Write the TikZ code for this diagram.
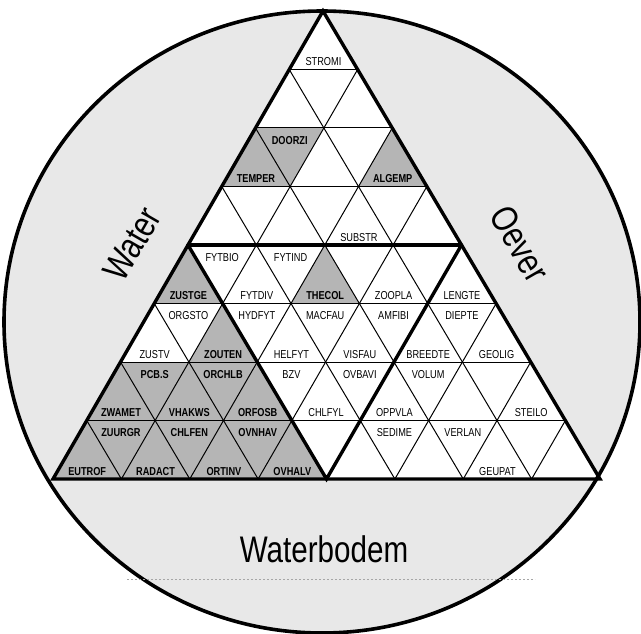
\documentclass[tikz,border=0pt]{standalone}
\usepackage{fontspec}
\setmainfont{Liberation Sans}
\newfontfamily\cf[FakeStretch=0.8]{Liberation Sans}
\usetikzlibrary{calc}
\newcommand\UpLab[5][lab]{\node[#1] (#4) at ({323-33.75*(#2+1)+68.375*(#3+0.5)},{11+58.5*(#2+1)-7.5}) {#5};}
\newcommand\DnLab[5][lab]{\node[#1] (#4) at ({323-33.75*(#2)+68.375*(#3+0.5)},{11+58.5*(#2)+12.5}) {#5};}
\newcommand\UpCell[2]{\fill[cellgray] (p#1-#2) -- (p\the\numexpr#1+1\relax-#2) -- (p\the\numexpr#1+1\relax-\the\numexpr#2+1\relax) -- cycle;}
\newcommand\DnCell[2]{\fill[cellgray] (p#1-#2) -- (p#1-\the\numexpr#2+1\relax) -- (p\the\numexpr#1+1\relax-\the\numexpr#2+1\relax) -- cycle;}
\begin{document}
\begin{tikzpicture}[x=1pt,y=-1pt,
  gridline/.style={line width=1pt},
  boldline/.style={line width=3.4pt, line join=miter, line cap=round},
  cellgray/.style={fill=gray!58},
  lab/.style={font=\cf\fontsize{11.5}{12}\selectfont, inner sep=0pt},
  glab/.style={font=\cf\fontsize{11.5}{12}\selectfont\bfseries, inner sep=0pt},
  big/.style={font=\cf\fontsize{37}{38}\selectfont, inner sep=0pt}]
\useasboundingbox (0,0) rectangle (641,634);
% lattice points
\foreach \r in {0,...,8}{
  \foreach \k in {0,...,\r}{
    \coordinate (p\r-\k) at ({323-33.75*\r+68.375*\k},{11+58.5*\r});
  }
}
\coordinate (ctr) at (322,322);
% disc
\fill[gray!18] (ctr) ellipse (318 and 311);
% triangle interior
\fill[white] (p0-0) -- (p8-0) -- (p8-8) -- cycle;
% gray cells
\UpCell{2}{0}\DnCell{2}{0}\UpCell{2}{2}
\UpCell{4}{0}\UpCell{4}{2}
\UpCell{5}{1}
\fill[cellgray] (p6-0) -- (p6-2) -- (p8-4) -- (p8-0) -- cycle;
% thin lattice
\foreach \r in {1,...,7}{ \draw[gridline] (p\r-0) -- (p\r-\r); }
\foreach \k in {1,...,7}{ \draw[gridline] (p\k-\k) -- (p8-\k); }
\foreach \m in {1,...,7}{ \pgfmathtruncatemacro\e{8-\m} \draw[gridline] (p\m-0) -- (p8-\e); }
% bold division lines
\draw[boldline] (p4-0) -- (p4-4);
\draw[boldline] (p4-0) -- (p8-4) -- (p4-4);
\draw[boldline] (p0-0) -- (p8-0) -- (p8-8) -- cycle;
\draw[line width=3.6pt] (ctr) ellipse (318 and 311);
% faint dashed line in the lower segment
\coordinate (dl) at (127,579);
\coordinate (dr) at (535,579);
\draw[gray!70, line width=0.5pt, dash pattern=on 2pt off 2pt] (dl) -- (dr);
% top triangle labels
\UpLab{0}{0}{stromi}{STROMI}
\UpLab[glab]{2}{0}{temper}{TEMPER}
\DnLab[glab]{2}{0}{doorzi}{DOORZI}
\UpLab[glab]{2}{2}{algemp}{ALGEMP}
\UpLab{3}{2}{substr}{SUBSTR}
% row 4
\UpLab[glab]{4}{0}{zustge}{ZUSTGE}
\DnLab{4}{0}{fytbio}{FYTBIO}
\UpLab{4}{1}{fytdiv}{FYTDIV}
\DnLab{4}{1}{fytind}{FYTIND}
\UpLab[glab]{4}{2}{thecol}{THECOL}
\UpLab{4}{3}{zoopla}{ZOOPLA}
\UpLab{4}{4}{lengte}{LENGTE}
% row 5
\UpLab{5}{0}{zustv}{ZUSTV}
\DnLab{5}{0}{orgsto}{ORGSTO}
\UpLab[glab]{5}{1}{zouten}{ZOUTEN}
\DnLab{5}{1}{hydfyt}{HYDFYT}
\UpLab{5}{2}{helfyt}{HELFYT}
\DnLab{5}{2}{macfau}{MACFAU}
\UpLab{5}{3}{visfau}{VISFAU}
\DnLab{5}{3}{amfibi}{AMFIBI}
\UpLab{5}{4}{breedte}{BREEDTE}
\DnLab{5}{4}{diepte}{DIEPTE}
\UpLab{5}{5}{geolig}{GEOLIG}
% row 6
\UpLab[glab]{6}{0}{zwamet}{ZWAMET}
\DnLab[glab]{6}{0}{pcbs}{PCB.S}
\UpLab[glab]{6}{1}{vhakws}{VHAKWS}
\DnLab[glab]{6}{1}{orchlb}{ORCHLB}
\UpLab[glab]{6}{2}{orfosb}{ORFOSB}
\DnLab{6}{2}{bzv}{BZV}
\UpLab{6}{3}{chlfyl}{CHLFYL}
\DnLab{6}{3}{ovbavi}{OVBAVI}
\UpLab{6}{4}{oppvla}{OPPVLA}
\DnLab{6}{4}{volum}{VOLUM}
\UpLab{6}{6}{steilo}{STEILO}
% row 7
\UpLab[glab]{7}{0}{eutrof}{EUTROF}
\DnLab[glab]{7}{0}{zuurgr}{ZUURGR}
\UpLab[glab]{7}{1}{radact}{RADACT}
\DnLab[glab]{7}{1}{chlfen}{CHLFEN}
\UpLab[glab]{7}{2}{ortinv}{ORTINV}
\DnLab[glab]{7}{2}{ovnhav}{OVNHAV}
\UpLab[glab]{7}{3}{ovhalv}{OVHALV}
\DnLab{7}{4}{sedime}{SEDIME}
\DnLab{7}{5}{verlan}{VERLAN}
\UpLab{7}{6}{geupat}{GEUPAT}
% big labels
\node[big, rotate=60] (water) at (132,244) {Water};
\node[big, rotate=-60] (oever) at (520,244) {Oever};
\node[big, anchor=base] (waterbodem) at (324,562) {Waterbodem};
\end{tikzpicture}
\end{document}
